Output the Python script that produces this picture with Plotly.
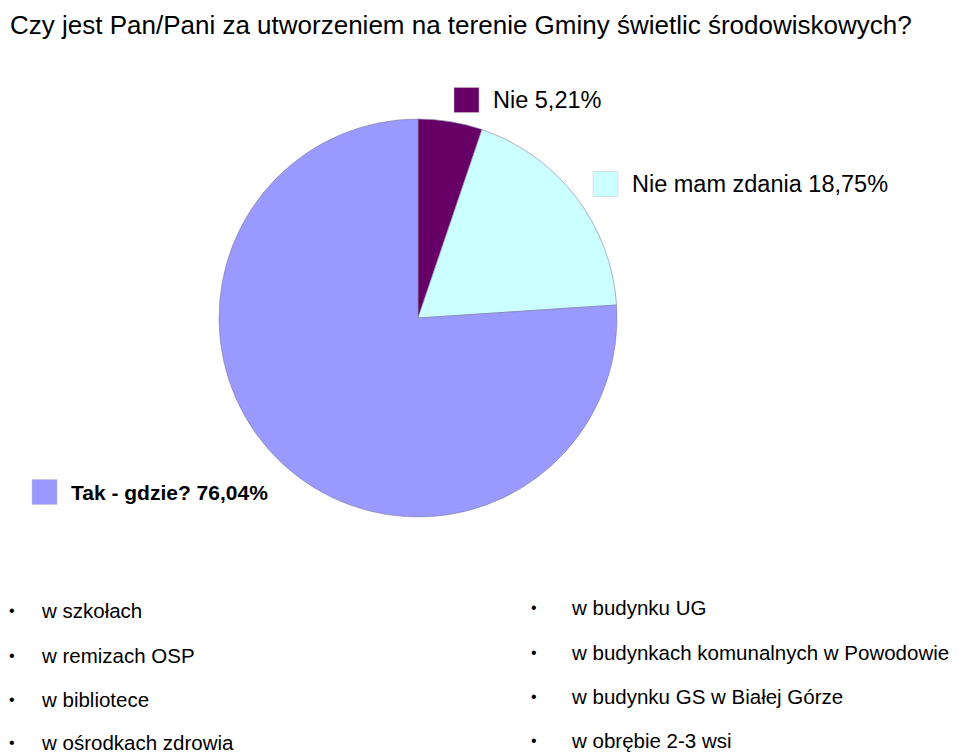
import plotly.graph_objects as go

title = "Czy jest Pan/Pani za utworzeniem na terenie Gminy świetlic środowiskowych?"
answers = ["Nie", "Nie mam zdania", "Tak - gdzie?"]
shares = [5.21, 18.75, 76.04]
colors = ["#660066", "#CCFFFF", "#9999FF"]
places_left = ["w szkołach", "w remizach OSP", "w bibliotece", "w ośrodkach zdrowia"]
places_right = ["w budynku UG", "w budynkach komunalnych w Powodowie",
                "w budynku GS w Białej Górze", "w obrębie 2-3 wsi"]

W, H = 960, 756
OFF = 8  # page body margin
BODY = "Liberation Sans, Arial, sans-serif"


def px(x):
    return (x - OFF) / W


def py(y):
    return 1 - (y - OFF) / H


fig = go.Figure(go.Pie(
    labels=answers,
    values=shares,
    sort=False,
    direction="clockwise",
    rotation=0,
    marker=dict(colors=colors, line=dict(color="#8080a0", width=0.6)),
    textinfo="none",
    hoverinfo="label+value",
    domain=dict(x=[px(219), px(617)], y=[py(517), py(119)]),
    showlegend=False,
))

fig.add_annotation(x=0, y=1, xref="paper", yref="paper", text=title,
                   showarrow=False, xanchor="left", yanchor="top",
                   font=dict(family=BODY, size=26, color="black"))

# legend boxes next to the pie
legend_pos = [(454, 100, 23.5, False), (593, 184, 23.5, False), (32, 492, 21, True)]
for name, val, col, (x, y, fs, bold) in zip(answers, shares, colors, legend_pos):
    fig.add_shape(type="rect", xref="paper", yref="paper",
                  x0=px(x), x1=px(x + 25), y0=py(y - 12.5), y1=py(y + 12.5),
                  fillcolor=col, line=dict(color="#c0c0c0", width=0.5))
    label = f"{name} {val:.2f}%".replace(".", ",")
    if bold:
        label = f"<b>{label}</b>"
    fig.add_annotation(x=px(x + 37), y=py(y), xref="paper", yref="paper", text=label,
                       showarrow=False, xanchor="left", yanchor="middle",
                       font=dict(family=BODY, size=fs, color="black"))

# bullet lists
for col_items, bx, tx, ys in [(places_left, 12, 39, [610, 655, 699, 742]),
                              (places_right, 534, 569, [607, 652, 696, 740])]:
    for item, y in zip(col_items, ys):
        fig.add_annotation(x=px(bx), y=py(y), xref="paper", yref="paper", text="•",
                           showarrow=False, xanchor="center", yanchor="middle",
                           font=dict(family=BODY, size=16, color="black"))
        fig.add_annotation(x=px(tx), y=py(y), xref="paper", yref="paper", text=item,
                           showarrow=False, xanchor="left", yanchor="middle",
                           font=dict(family=BODY, size=20.5, color="black"))

fig.update_layout(width=W, height=H, margin=dict(l=0, r=0, t=0, b=0),
                  paper_bgcolor="white", plot_bgcolor="white")

fig.write_html("out.html")
